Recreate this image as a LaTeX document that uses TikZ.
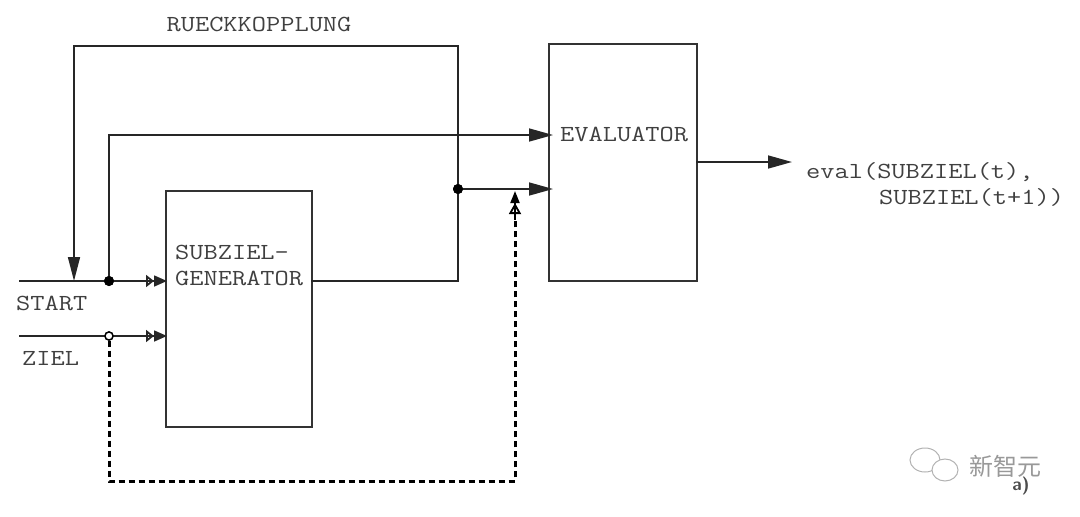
\documentclass[tikz,border=0pt]{standalone}
\usepackage{fontspec}
\usepackage{graphicx}
\newfontfamily\cjk{Noto Sans CJK SC}
\usetikzlibrary{arrows.meta}
\newcommand{\wtxt}[1]{\scalebox{1.2}[1]{#1}}
\tikzset{
  x=1pt, y=-1pt,
  wire/.style={line width=1.6pt, draw=black!85},
  boxnode/.style={draw=black!80, line width=1.6pt, minimum width=146pt, minimum height=236pt, inner sep=0pt},
  lbl/.style={font=\ttfamily\fontsize{23}{28}\selectfont, text=black!75, inner sep=0pt},
  bigtip/.style={-{Triangle[length=24pt,width=13pt]}},
  intip/.style={-{Triangle[open,length=8pt,width=12pt,sep=0pt,line width=1.8pt]Triangle[length=13pt,width=11pt]}},
  dashwire/.style={line width=3pt, draw=black, dash pattern=on 6pt off 4pt},
  dot/.style={circle, fill=black, inner sep=0pt, minimum size=10pt},
  odot/.style={circle, draw=black, fill=white, line width=1.4pt, inner sep=0pt, minimum size=8pt},
}
\begin{document}
\begin{tikzpicture}
\useasboundingbox (0,0) rectangle (1080,517);
% boxes
\node[boxnode, anchor=north west] (gen) at (165,190) {};
\node[boxnode, minimum width=148pt, minimum height=237pt, anchor=north west] (eva) at (548,43) {};
% texts
\node[lbl, anchor=west] (tgen1) at (175,252) {\wtxt{SUBZIEL-}};
\node[lbl, anchor=west] (tgen2) at (175,278) {\wtxt{GENERATOR}};
\node[lbl, anchor=west] (teva) at (560,134) {\wtxt{EVALUATOR}};
\node[lbl] (trk) at (259,24) {\wtxt{RUECKKOPPLUNG}};
\node[lbl, anchor=west] (tstart) at (16,303) {\wtxt{START}};
\node[lbl, anchor=west] (tziel) at (22,358) {\wtxt{ZIEL}};
\node[lbl, anchor=west] (tout1) at (806,172) {\wtxt{eval(SUBZIEL(t),}};
\node[lbl, anchor=west] (tout2) at (879,197) {\wtxt{SUBZIEL(t+1))}};
% coordinates
\coordinate (s0) at (19,281);
\coordinate (sin) at (167,281);
\coordinate (z0) at (19,336);
\coordinate (zin) at (167,336);
\coordinate (gout) at (311,281);
\coordinate (fb1) at (458,281);
\coordinate (fb2) at (458,46);
\coordinate (fb3) at (74,46);
\coordinate (fb4) at (74,281);
\coordinate (e1) at (553,135);
\coordinate (e2) at (553,189);
\coordinate (eout) at (696,162);
\coordinate (oend) at (792,162);
\node[dot] (d1) at (109,281) {};
\node[dot] (d2) at (458,189) {};
\node[odot] (d3) at (109,336) {};
\coordinate (q1) at (109,481);
\coordinate (q2) at (515,481);
\coordinate (q3) at (515,191);
% connectors
\draw[wire, intip] (s0) -- (sin);
\draw[wire, intip] (z0) -- (zin);
\draw[wire, -{Triangle[length=24pt,width=12pt]}] (gout) -- (fb1) -- (fb2) -- (fb3) -- (fb4);
\draw[wire, bigtip] (d1.center) -- (109,135) -- (e1);
\draw[wire, bigtip] (d2.center) -- (e2);
\draw[wire, bigtip] (eout) -- (oend);
\draw[dashwire] (d3.south) -- (q1) -- (q2) -- (515,218);
\draw[line width=1.8pt, -{Triangle[open,length=11pt,width=12pt,sep=0pt,line width=1.8pt]Triangle[length=12pt,width=9pt]}] (515,220) -- (q3);
\node[dot] at (109,281) {};
\node[dot] at (458,189) {};
\node[odot] at (109,336) {};
% watermark
\draw[black!30, line width=1pt] (925,460) ellipse (15pt and 12pt);
\draw[black!30, line width=1pt, fill=white] (945,470) ellipse (13pt and 11pt);
\node[font=\cjk\fontsize{24}{28}\selectfont, text=black!40, inner sep=0pt] (wm) at (1005,466) {新智元};
\node[font=\sffamily\bfseries\fontsize{18}{20}\selectfont, text=black!70, inner sep=0pt] (ta) at (1021,486) {a)};
\end{tikzpicture}
\end{document}
